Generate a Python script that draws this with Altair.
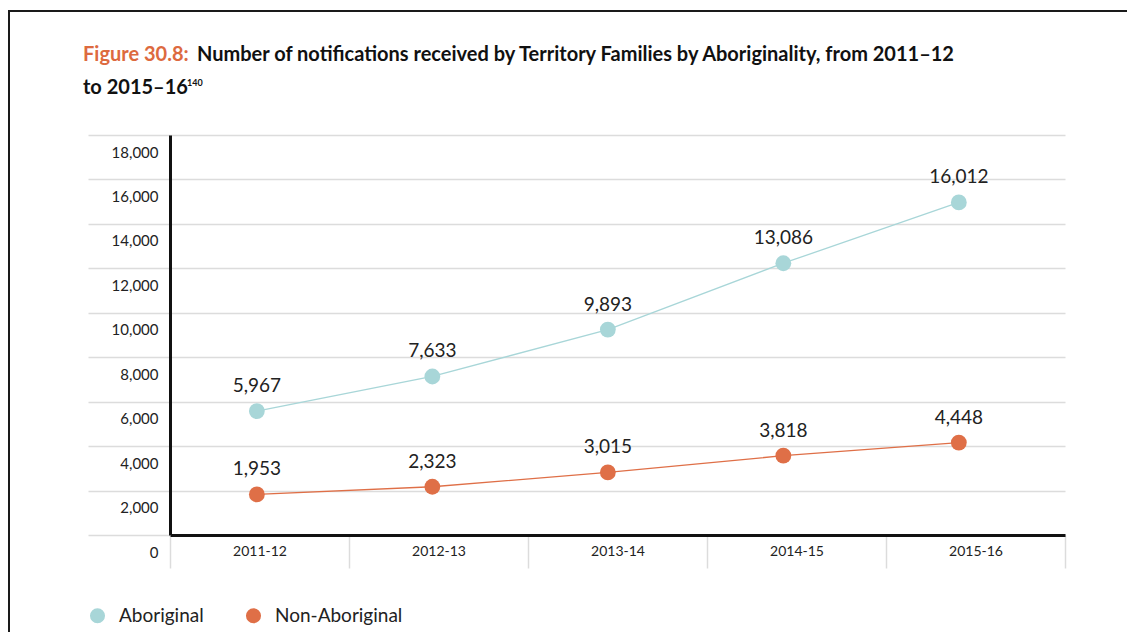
import altair as alt
import pandas as pd

FONT = "Lato"

years = ["2011-12", "2012-13", "2013-14", "2014-15", "2015-16"]
aboriginal = [5967, 7633, 9893, 13086, 16012]
non_aboriginal = [1953, 2323, 3015, 3818, 4448]
series = ["Aboriginal", "Non-Aboriginal"]
colors = ["#a8d6d8", "#df6f47"]
y_ticks = [0, 2000, 4000, 6000, 8000, 10000, 12000, 14000, 16000, 18000]

title_prefix = "Figure 30.8:"
title_line1 = "Number of notifications received by Territory Families by Aboriginality, from 2011\u201312"
title_line2 = "to 2015\u201316"
title_sup = "140"

rows = []
for s, vals in zip(series, [aboriginal, non_aboriginal]):
    for yr, v in zip(years, vals):
        rows.append({"year": yr, "series": s, "value": v})
df = pd.DataFrame(rows)
ann = pd.DataFrame({"k": [0]})

GRID = "#dcdcdc"
INK = "#222222"

# Axis / grid layer (band scale, 0-18,000)
axis_layer = alt.Chart(df).mark_point(opacity=0).encode(
    x=alt.X("year:N", sort=years, title=None,
            scale=alt.Scale(type="band", paddingInner=0, paddingOuter=0),
            axis=alt.Axis(domainColor="#111111", domainWidth=3, tickBand="extent",
                          tickSize=33, tickColor=GRID, tickWidth=1.5, labelPadding=-24,
                          labelAngle=0, labelFontSize=14, labelColor=INK, labelFont=FONT,
                          grid=False)),
    y=alt.Y("value:Q", title=None,
            scale=alt.Scale(domain=[0, 18000], nice=False),
            axis=alt.Axis(values=y_ticks, format=",.0f", domainColor="#111111", domainWidth=3,
                          tickSize=82, tickColor=GRID, tickWidth=1.5, grid=True,
                          gridColor=GRID, gridWidth=1.5, labelPadding=-70, labelOffset=17,
                          labelFontSize=15, labelColor=INK, labelFont=FONT)),
)

# Data layer (as plotted in the reference)
xs = alt.Scale(type="point", domain=years, padding=0.55, align=0.45)
ys = alt.Scale(domain=[0, 19260], nice=False)
base = alt.Chart(df).encode(
    x=alt.X("year:N", sort=years, scale=xs, axis=None),
    y=alt.Y("value:Q", scale=ys, axis=None),
    color=alt.Color("series:N", scale=alt.Scale(domain=series, range=colors),
                    legend=alt.Legend(orient="none", legendX=-82, legendY=471,
                                      direction="horizontal", title=None,
                                      symbolType="circle", symbolSize=227,
                                      symbolStrokeWidth=0, symbolOpacity=1,
                                      labelFontSize=19, labelFont=FONT, labelColor=INK,
                                      labelOffset=12, columnPadding=40)),
)
pts = base.mark_circle(size=250, opacity=1)
line = base.mark_line(strokeWidth=1.3)
txt = base.mark_text(dy=-25, fontSize=19, font=FONT).encode(
    text=alt.Text("value:Q", format=","), color=alt.value(INK))
data_layer = alt.layer(line, pts, txt)

# Frame and title annotations
frame_top = alt.Chart(ann).mark_rule(color="#1a1a1a", strokeWidth=2).encode(
    x=alt.value(-162), x2=alt.value(960), y=alt.value(-124))
frame_left = alt.Chart(ann).mark_rule(color="#1a1a1a", strokeWidth=2).encode(
    x=alt.value(-161), y=alt.value(-124), y2=alt.value(497))
t_prefix = alt.Chart(ann).mark_text(align="left", baseline="alphabetic", fontSize=20,
                                    fontWeight="bold", font=FONT, color="#dd6a3f").encode(
    x=alt.value(-87), y=alt.value(-74), text=alt.value(title_prefix))
t_line1 = alt.Chart(ann).mark_text(align="left", baseline="alphabetic", fontSize=20,
                                   fontWeight="bold", font=FONT, color="#111111").encode(
    x=alt.value(27), y=alt.value(-74), text=alt.value(title_line1))
t_line2 = alt.Chart(ann).mark_text(align="left", baseline="alphabetic", fontSize=20,
                                   fontWeight="bold", font=FONT, color="#111111").encode(
    x=alt.value(-87), y=alt.value(-41), text=alt.value(title_line2))
t_sup = alt.Chart(ann).mark_text(align="left", baseline="alphabetic", fontSize=9,
                                 fontWeight="bold", font=FONT, color="#111111").encode(
    x=alt.value(17), y=alt.value(-49), text=alt.value(title_sup))

chart = alt.layer(
    frame_top, frame_left, t_prefix, t_line1, t_line2, t_sup, axis_layer, data_layer
).resolve_scale(x="independent", y="independent").properties(
    width=895, height=400, autosize="none",
    padding={"left": 162, "top": 127, "right": 62, "bottom": 97},
    background="white",
).configure_view(stroke=None)

chart.save("out.html", embed_options={"renderer": "svg", "actions": False})
